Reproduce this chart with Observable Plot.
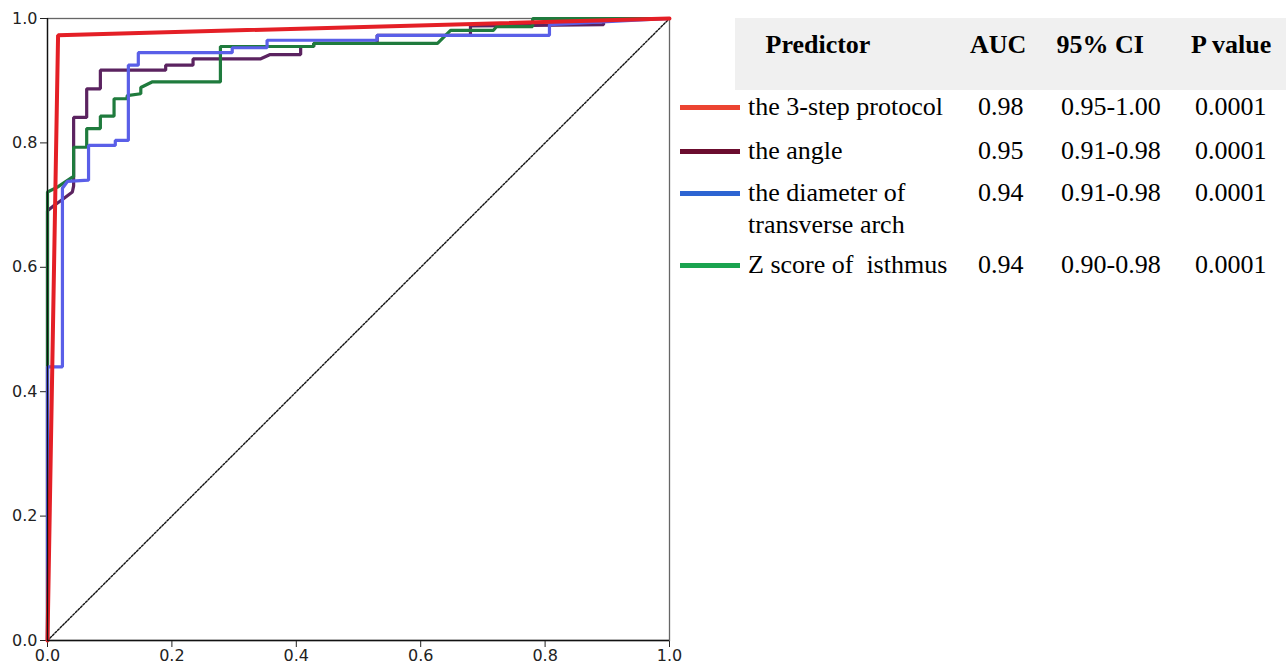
<!DOCTYPE html>
<html>
<head>
<meta charset="utf-8">
<script src="https://cdn.jsdelivr.net/npm/d3@7"></script>
<script src="https://cdn.jsdelivr.net/npm/@observablehq/plot@0.6"></script>
<style>
  body { margin: 0; background: #fff; }
  #wrap { position: relative; width: 1286px; height: 671px; overflow: hidden; }
  #chart { position: absolute; left: 0; top: 0; }
  .tbl { position: absolute; font-family: "Liberation Serif", "Times New Roman", serif; font-size: 26px; color: #000; white-space: pre; line-height: 32px; }
  .hdr { font-weight: bold; }
  .sw { position: absolute; height: 5px; width: 60px; }
  #hbg { position: absolute; left: 735px; top: 18px; width: 551px; height: 72px; background: #f0f0f0; }
</style>
</head>
<body>
<div id="wrap">
  <div id="chart"></div>
  <div id="hbg"></div>
</div>
<script>
// ---- data ----
const predictors = ["the 3-step protocol", "the angle", "the diameter of\ntransverse arch", "Z score of  isthmus"];
const aucValues = ["0.98", "0.95", "0.94", "0.94"];
const ciValues = ["0.95-1.00", "0.91-0.98", "0.91-0.98", "0.90-0.98"];
const pValues = ["0.0001", "0.0001", "0.0001", "0.0001"];
const headers = ["Predictor", "AUC", "95% CI", "P value"];
const tickValues = [0, 0.2, 0.4, 0.6, 0.8, 1.0];

const protocolFPR = [0, 0.017, 1];
const protocolTPR = [0, 0.973, 1];

const angleFPR = [0, 0, 0.010, 0.024, 0.040, 0.042, 0.042, 0.063, 0.063, 0.085, 0.085, 0.190, 0.190, 0.234, 0.234, 0.342, 0.358, 0.407, 0.407, 0.428, 0.428, 0.53, 0.53, 0.68, 0.68, 0.894, 0.894, 1];
const angleTPR = [0, 0.691, 0.699, 0.709, 0.721, 0.731, 0.841, 0.841, 0.887, 0.887, 0.917, 0.917, 0.925, 0.925, 0.935, 0.935, 0.942, 0.942, 0.955, 0.955, 0.960, 0.960, 0.973, 0.973, 0.988, 0.990, 1, 1];

const diameterFPR = [0, 0, 0.024, 0.024, 0.032, 0.066, 0.066, 0.109, 0.109, 0.130, 0.130, 0.146, 0.146, 0.297, 0.297, 0.353, 0.353, 0.53, 0.53, 0.807, 0.807, 1];
const diameterTPR = [0, 0.44, 0.44, 0.727, 0.738, 0.740, 0.796, 0.796, 0.804, 0.804, 0.925, 0.925, 0.945, 0.945, 0.953, 0.953, 0.965, 0.965, 0.973, 0.973, 0.990, 1];

const isthmusFPR = [0, 0, 0.016, 0.040, 0.042, 0.042, 0.063, 0.063, 0.085, 0.085, 0.107, 0.107, 0.128, 0.128, 0.150, 0.150, 0.168, 0.278, 0.278, 0.428, 0.428, 0.627, 0.648, 0.717, 0.722, 0.78, 0.78, 1];
const isthmusTPR = [0, 0.721, 0.729, 0.745, 0.745, 0.793, 0.793, 0.823, 0.823, 0.843, 0.843, 0.871, 0.871, 0.876, 0.879, 0.889, 0.898, 0.898, 0.955, 0.955, 0.960, 0.960, 0.981, 0.981, 0.987, 0.987, 1, 1];

const referenceFPR = [0, 1];
const referenceTPR = [0, 1];

// ---- styles ----
const lineColors = ["#e41f26", "#5b2360", "#5a5fe8", "#1f7b3d"];
const swatchColors = ["#ec4431", "#6b0c2e", "#2d64d2", "#1aa34f"];

const toRows = (fx, ty, k) => fx.map((x, i) => ({x, y: ty[i], k}));
const curves = [
  toRows(angleFPR, angleTPR, 1),
  toRows(isthmusFPR, isthmusTPR, 3),
  toRows(diameterFPR, diameterTPR, 2),
  toRows(protocolFPR, protocolTPR, 0)
];

const chart = Plot.plot({
  width: 690,
  height: 671,
  marginLeft: 47,
  marginRight: 21,
  marginTop: 18,
  marginBottom: 31,
  style: { fontFamily: "DejaVu Sans, sans-serif", fontSize: "16px", color: "#222", background: "transparent" },
  x: { domain: [0, 1], ticks: tickValues, tickFormat: d3.format(".1f"), label: null, tickSize: 7, tickPadding: 2 },
  y: { domain: [0, 1], ticks: tickValues, tickFormat: d3.format(".1f"), label: null, tickSize: 7, tickPadding: 3 },
  marks: [
    Plot.frame({ stroke: "#666", strokeWidth: 1.3 }),
    Plot.line(toRows(referenceFPR, referenceTPR, -1), { x: "x", y: "y", stroke: "#111", strokeWidth: 1.4, strokeDasharray: "2,1.6" }),
    ...curves.map(c => Plot.line(c, {
      x: "x", y: "y",
      stroke: lineColors[c[0].k],
      strokeWidth: c[0].k === 0 ? 4 : 3.2,
      strokeLinejoin: "miter"
    })),
    Plot.ruleX([0], { stroke: "#111", strokeWidth: 1.3 }),
    Plot.ruleY([0], { stroke: "#111", strokeWidth: 1.3 })
  ]
});
document.getElementById("chart").appendChild(chart);

// ---- table legend ----
const wrap = document.getElementById("wrap");
function addText(txt, cx, cy, cls, align) {
  const d = document.createElement("div");
  d.className = "tbl " + (cls || "");
  d.textContent = txt;
  wrap.appendChild(d);
  const w = d.offsetWidth;
  d.style.top = (cy - 16) + "px";
  d.style.left = (align === "left" ? cx : cx - w / 2) + "px";
}
const headerCenters = [818, 998, 1100, 1231];
headers.forEach((h, i) => addText(h, headerCenters[i], 45, "hdr", "center"));
const rowCenters = [107, 151, 193, 265];
predictors.forEach((p, i) => {
  const cy = rowCenters[i];
  const sw = document.createElement("div");
  sw.className = "sw";
  sw.style.left = "680px";
  sw.style.top = (cy - 2.5) + "px";
  sw.style.background = swatchColors[i];
  wrap.appendChild(sw);
  addText(p, 748, cy, "", "left");
  addText(aucValues[i], 1001, cy, "", "center");
  addText(ciValues[i], 1111, cy, "", "center");
  addText(pValues[i], 1231, cy, "", "center");
});
</script>
</body>
</html>
